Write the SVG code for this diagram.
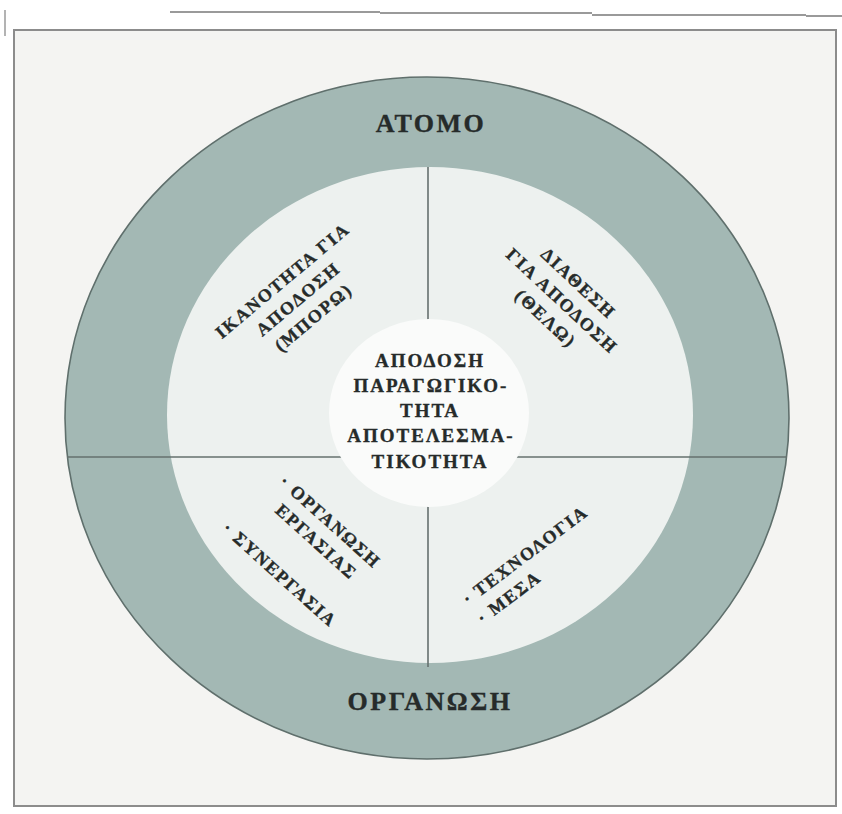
<svg xmlns="http://www.w3.org/2000/svg" width="842" height="814" viewBox="0 0 842 814">
  <style>
    .lbl { font-family: "Liberation Serif", "Times New Roman", serif; font-weight: bold; fill: #262b2a; stroke: #262b2a; stroke-width: 0.35; }
    .big { font-size: 26px; letter-spacing: 2.5px; text-anchor: middle; }
    .mid { font-size: 19px; letter-spacing: 2px; text-anchor: middle; }
    .quad { font-size: 18px; letter-spacing: 1.8px; }
    .ctr { text-anchor: middle; }
    .div { stroke: #65706e; stroke-width: 1.6; fill: none; }
  </style>

  <!-- page -->
  <rect x="0" y="0" width="842" height="814" fill="#ffffff"/>
  <rect x="14" y="30" width="822" height="776" fill="#f4f4f2" stroke="#8c8c8c" stroke-width="2"/>
  <!-- rules at the top edge -->
  <g stroke="#9a9a9a" stroke-width="2" fill="none">
    <line x1="170" y1="12" x2="380" y2="12"/>
    <line x1="380" y1="13" x2="592" y2="13"/>
    <line x1="592" y1="15" x2="806" y2="15"/>
    <line x1="806" y1="16" x2="842" y2="16"/>
    <line x1="5" y1="10" x2="5" y2="36" stroke-width="1.5"/>
  </g>

  <!-- rings -->
  <g id="ring">
    <ellipse cx="427" cy="418" rx="362" ry="341" fill="#a3b8b4" stroke="#5f6f6c" stroke-width="1.6"/>
    <ellipse cx="430" cy="415" rx="263" ry="248" fill="#edf1ef"/>
  </g>

  <!-- quadrant dividers -->
  <g id="connectors">
    <line class="div" x1="67" y1="457" x2="787" y2="457"/>
    <line class="div" x1="428" y1="167" x2="428" y2="667"/>
  </g>

  <!-- centre: performance -->
  <g id="centre">
    <ellipse cx="429" cy="413" rx="100" ry="94" fill="#fafbfa"/>
    <text class="lbl mid" x="430" y="367">ΑΠΟΔΟΣΗ</text>
    <text class="lbl mid" x="431" y="392">ΠΑΡΑΓΩΓΙΚΟ-</text>
    <text class="lbl mid" x="430" y="417">ΤΗΤΑ</text>
    <text class="lbl mid" x="431" y="442">ΑΠΟΤΕΛΕΣΜΑ-</text>
    <text class="lbl mid" x="430" y="468">ΤΙΚΟΤΗΤΑ</text>
  </g>

  <!-- outer labels -->
  <g id="atomo">
    <text class="lbl big" x="431" y="132">ΑΤΟΜΟ</text>
  </g>
  <g id="organosi">
    <text class="lbl big" x="430" y="710">ΟΡΓΑΝΩΣΗ</text>
  </g>

  <!-- quadrant: ability -->
  <g id="ikanotita" transform="translate(298,299) rotate(-40)">
    <text class="lbl quad ctr" x="0" y="-18">ΙΚΑΝΟΤΗΤΑ ΓΙΑ</text>
    <text class="lbl quad ctr" x="0" y="6">ΑΠΟΔΟΣΗ</text>
    <text class="lbl quad ctr" x="0" y="30">(ΜΠΟΡΩ)</text>
  </g>

  <!-- quadrant: willingness -->
  <g id="diathesi" transform="translate(562,301) rotate(43)">
    <text class="lbl quad ctr" x="0" y="-18">ΔΙΑΘΕΣΗ</text>
    <text class="lbl quad ctr" x="0" y="6">ΓΙΑ ΑΠΟΔΟΣΗ</text>
    <text class="lbl quad ctr" x="0" y="30">(ΘΕΛΩ)</text>
  </g>

  <!-- quadrant: work organisation -->
  <g id="organosi-ergasias" transform="translate(283,478) rotate(42)">
    <text class="lbl quad" x="0" y="7">· ΟΡΓΑΝΩΣΗ</text>
    <text class="lbl quad" x="16" y="31">ΕΡΓΑΣΙΑΣ</text>
    <text class="lbl quad" x="-11" y="80">· ΣΥΝΕΡΓΑΣΙΑ</text>
  </g>

  <!-- quadrant: technology -->
  <g id="technologia" transform="translate(465,598) rotate(-37)">
    <text class="lbl quad" x="-2" y="8">· ΤΕΧΝΟΛΟΓΙΑ</text>
    <text class="lbl quad" x="-2" y="32">· ΜΕΣΑ</text>
  </g>
</svg>
